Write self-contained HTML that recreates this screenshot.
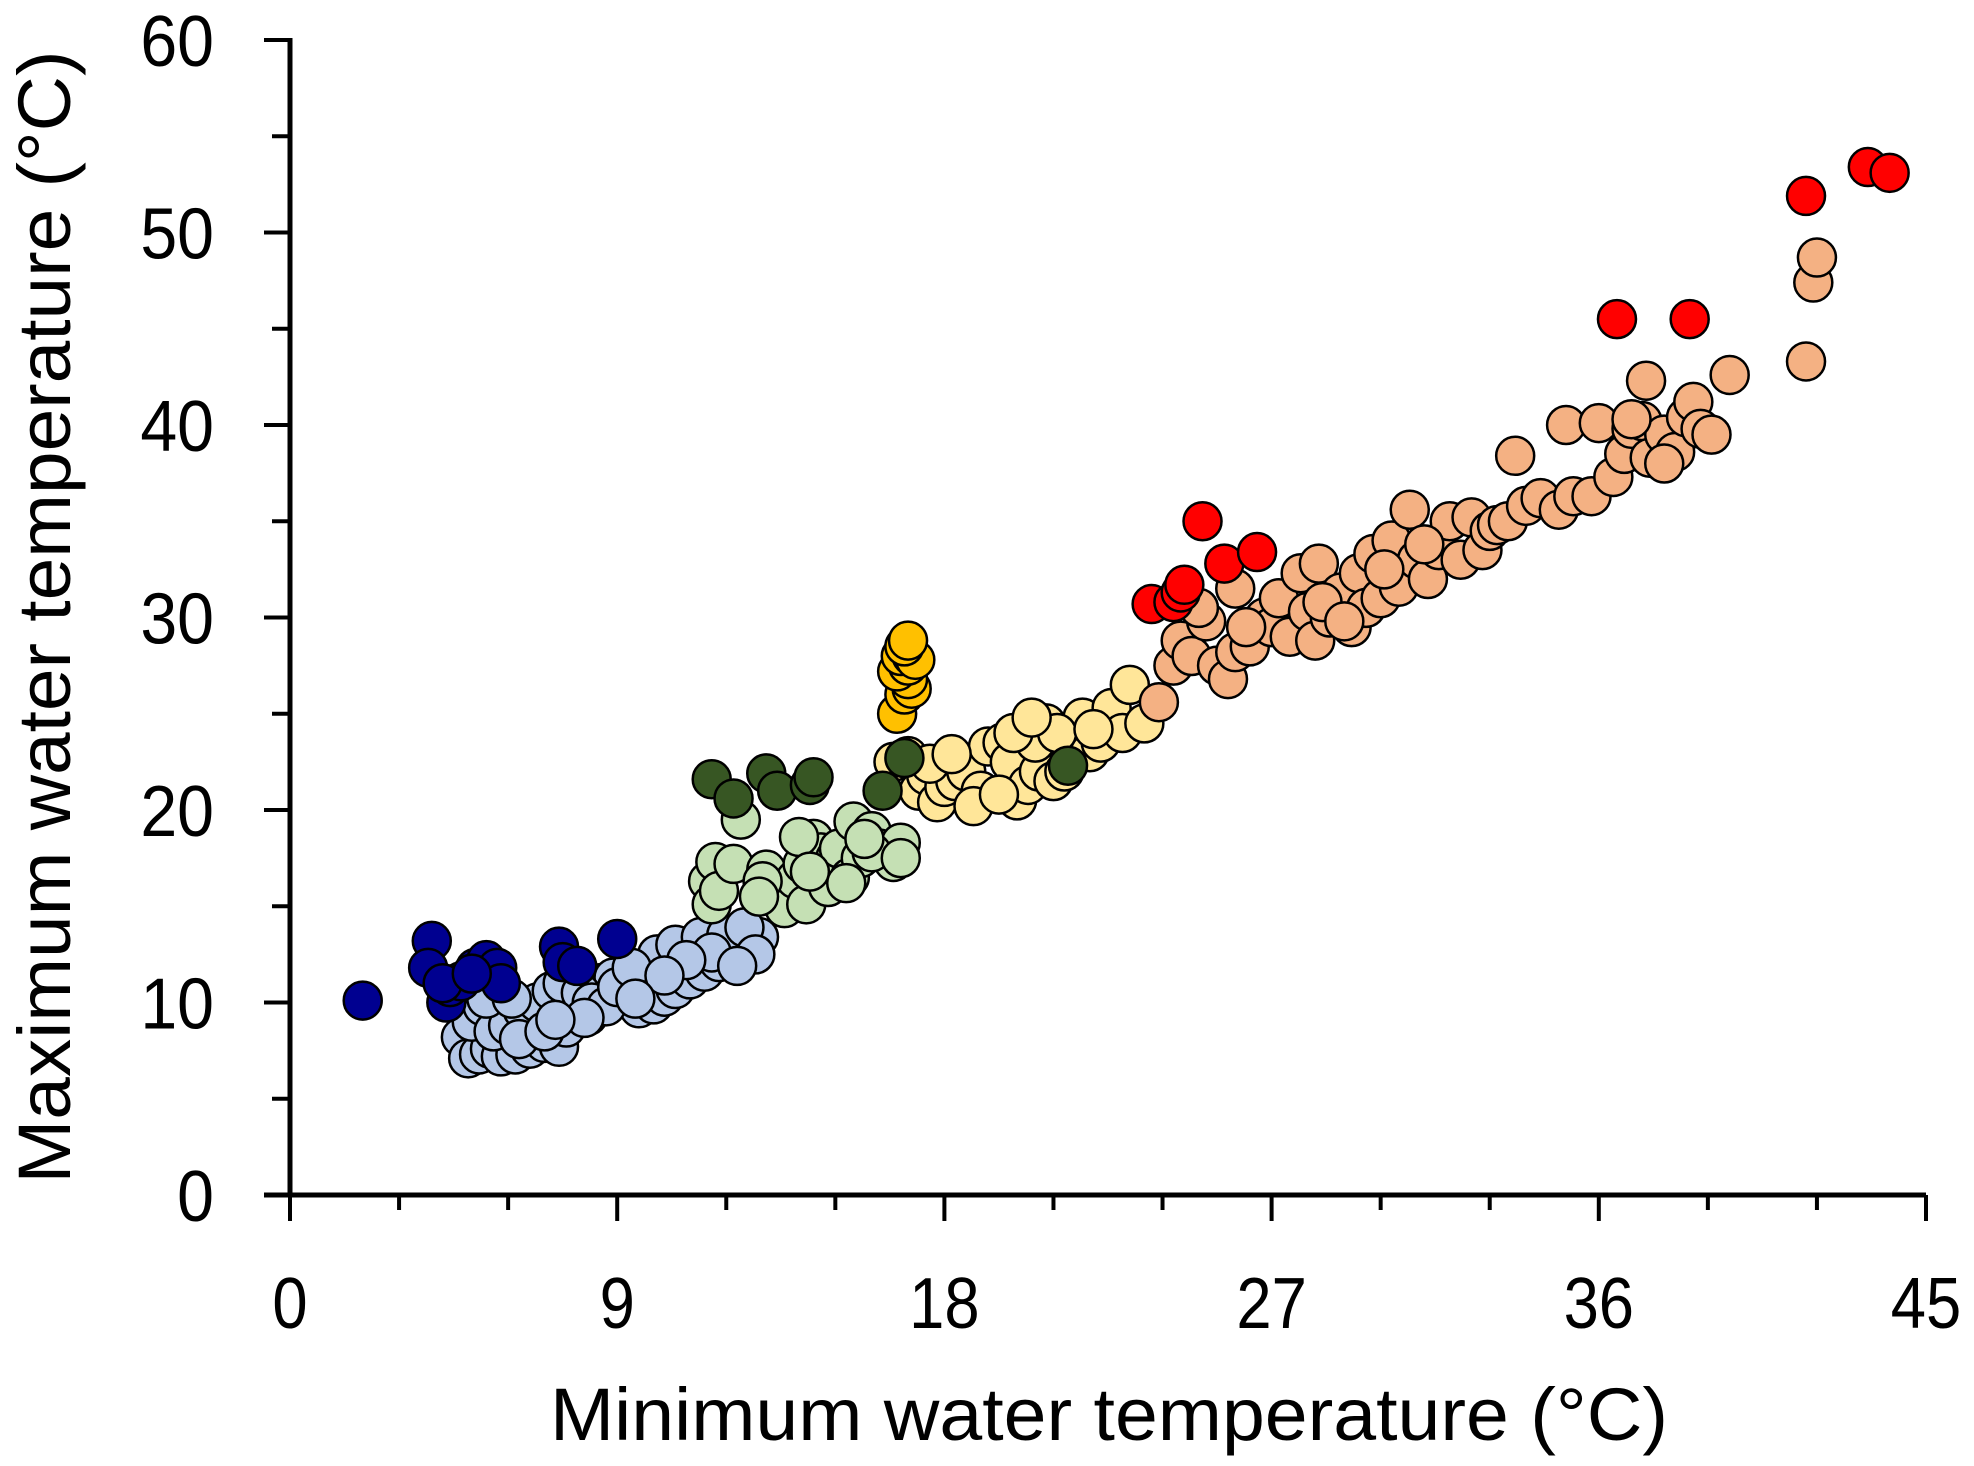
<!DOCTYPE html>
<html><head><meta charset="utf-8"><style>
html,body{margin:0;padding:0;background:#fff;}
svg{display:block;}
text{font-family:"Liberation Sans",sans-serif;fill:#000;}
</style></head><body>
<svg id="chart" width="1974" height="1466" viewBox="0 0 1974 1466">
<g id="axes"></g>
<g id="points"></g>
<text x="1109" y="1440" font-size="74" text-anchor="middle" textLength="1118" lengthAdjust="spacingAndGlyphs">Minimum water temperature (°C)</text>
<text transform="translate(70,617) rotate(-90)" font-size="74" text-anchor="middle" textLength="1133" lengthAdjust="spacingAndGlyphs">Maximum water temperature (°C)</text>
</svg>
<script>
const xTicks=[0,9,18,27,36,45];
const yTicks=[0,10,20,30,40,50,60];
const navy=[[2.0,10.1],[3.9,13.2],[3.8,11.8],[4.3,10.0],[4.4,10.8],[4.7,11.1],[5.1,11.8],[5.4,12.2],[5.7,11.8],[5.8,11.0],[7.4,12.9],[7.5,12.1],[7.9,11.9],[9.0,13.3],[4.2,11.0],[5.0,11.5]];
const lightBlue=[[4.7,8.2],[4.9,7.1],[5.2,7.3],[5.5,7.6],[5.8,7.2],[6.2,7.3],[6.6,7.6],[7.0,7.9],[7.4,7.7],[7.6,8.7],[7.8,9.7],[8.2,9.3],[8.5,11.0],[8.9,11.3],[9.2,10.4],[9.6,9.7],[10.0,9.9],[10.3,10.3],[10.6,10.7],[11.0,11.2],[11.4,11.6],[11.8,12.1],[12.2,12.4],[12.6,12.9],[12.9,13.4],[9.9,11.7],[10.1,12.5],[10.6,13.0],[11.3,13.4],[12.0,13.5],[12.5,13.9],[5.0,9.0],[5.3,9.8],[5.6,8.5],[6.0,8.8],[6.4,9.6],[6.8,10.0],[7.2,10.6],[7.5,11.0],[8.0,10.5],[8.3,10.0],[8.7,9.8],[9.0,10.8],[9.4,11.8],[6.3,8.1],[7.0,8.5],[5.4,10.2],[6.1,10.2],[12.8,12.5],[11.6,12.6],[10.9,12.2],[10.3,11.4],[9.5,10.2],[8.1,9.2],[7.3,9.1],[12.3,11.9]];
const lightGreen=[[11.5,16.3],[11.7,17.3],[11.6,15.1],[11.8,15.8],[12.2,17.2],[12.4,19.5],[13.1,16.9],[13.4,15.6],[13.6,14.9],[13.9,16.4],[14.1,17.2],[14.2,15.1],[14.4,18.5],[14.6,17.8],[14.8,16.0],[15.0,17.5],[15.1,18.0],[15.4,16.5],[15.5,19.4],[15.7,17.5],[16.0,18.9],[16.2,18.0],[16.6,17.3],[16.8,18.3],[13.0,16.3],[14.0,18.6],[15.3,16.2],[16.0,17.8],[16.8,17.5],[15.8,18.5],[14.3,16.8],[12.9,15.5]];
const yellow=[[16.6,22.5],[17.0,22.8],[17.3,21.0],[17.5,21.8],[17.8,20.4],[18.0,21.2],[18.3,21.5],[18.6,22.0],[19.0,21.0],[19.2,23.3],[19.6,23.5],[19.8,22.5],[20.0,20.5],[20.3,21.3],[20.6,22.0],[20.8,24.5],[21.0,21.5],[21.3,22.0],[21.6,22.8],[21.8,24.8],[22.0,23.0],[22.3,23.5],[22.6,25.3],[22.9,24.0],[23.1,26.5],[23.5,24.5],[18.8,20.2],[19.5,20.8],[20.5,23.5],[21.1,24.0],[22.1,24.2],[17.6,22.4],[18.2,22.9],[19.9,24.0],[20.4,24.8]];
const salmon=[[23.9,25.6],[24.3,27.5],[24.5,28.8],[24.8,28.0],[25.2,29.8],[25.5,27.5],[25.8,26.8],[26.0,28.2],[26.0,31.5],[26.4,28.5],[26.8,30.0],[27.0,29.5],[27.2,31.0],[27.5,29.0],[27.8,32.3],[28.0,30.3],[28.2,28.8],[28.3,32.8],[28.6,30.0],[28.9,31.3],[29.2,29.5],[29.4,32.3],[29.6,30.5],[29.8,33.3],[30.0,31.0],[30.3,34.0],[30.5,31.6],[30.8,35.6],[31.0,33.0],[31.3,32.0],[31.6,33.5],[31.9,35.0],[32.2,33.0],[32.5,35.2],[32.8,33.5],[33.0,34.5],[33.2,34.8],[33.5,35.0],[33.7,38.4],[34.0,35.8],[34.4,36.2],[34.9,35.6],[35.1,40.0],[35.3,36.3],[35.8,36.3],[36.0,40.1],[36.4,37.3],[36.7,38.5],[36.9,39.8],[37.2,40.2],[37.3,42.3],[37.4,38.3],[37.8,39.5],[38.1,38.6],[38.4,40.4],[38.6,41.2],[38.8,39.8],[39.1,39.5],[39.6,42.6],[41.7,43.3],[41.9,47.4],[42.0,48.7],[28.4,30.8],[29.0,29.8],[30.1,32.5],[31.2,33.8],[26.3,29.5],[25.0,30.5],[36.9,40.3],[37.8,38.0]];
const gold=[[16.7,25.0],[16.9,26.0],[17.1,26.3],[17.0,26.8],[16.7,27.2],[17.0,27.5],[16.8,28.0],[17.1,28.0],[17.2,27.8],[16.9,28.5],[17.0,28.8]];
const darkGreen=[[11.6,21.6],[12.2,20.6],[13.1,21.9],[13.4,21.0],[14.3,21.3],[14.4,21.7],[16.3,21.0],[16.9,22.7],[21.4,22.3]];
const red=[[23.7,30.7],[24.3,30.8],[24.5,31.3],[24.6,31.7],[25.1,35.0],[25.7,32.8],[26.6,33.4],[36.5,45.5],[38.5,45.5],[41.7,51.9],[43.4,53.4],[44.0,53.1]];

const NS='http://www.w3.org/2000/svg';
const X0=290,X1=1926,Y0=1195,Y1=40;
function sx(v){return X0+(v-0)/45*(X1-X0);}
function sy(v){return Y0-(v-0)/60*(Y0-Y1);}
function mk(tag,attrs,parent){const e=document.createElementNS(NS,tag);for(const k in attrs)e.setAttribute(k,attrs[k]);parent.appendChild(e);return e;}
const axes=document.getElementById('axes');
let l=mk('line',{x1:X0,y1:Y1-2,x2:X0,y2:Y0,stroke:'#000','stroke-width':5},axes);


l=mk('line',{x1:264,y1:Y0,x2:X1,y2:Y0,stroke:'#000','stroke-width':5},axes);


for(let v=0;v<=60;v+=5){
  const major=v%10===0;
  const t=mk('line',{x1:major?264:272,y1:sy(v),x2:X0,y2:sy(v),stroke:'#000','stroke-width':4},axes);
  
  
}
for(let v=0;v<=45;v+=3){
  const major=v%9===0;
  const t=mk('line',{x1:sx(v),y1:Y0,x2:sx(v),y2:major?1221:1210,stroke:'#000','stroke-width':4},axes);
  
  
}
yTicks.forEach(v=>{
  const t=mk('text',{x:0,y:0,'font-size':72,'text-anchor':'end',transform:'translate(214,'+(sy(v)+26)+') scale(0.92,1)'},axes);
  t.textContent=v;
  
  
});
xTicks.forEach(v=>{
  const t=mk('text',{x:0,y:0,'font-size':72,'text-anchor':'middle',transform:'translate('+sx(v)+',1328) scale(0.88,1)'},axes);
  t.textContent=v;
  
  
});
const pts=document.getElementById('points');
const series=[[lightBlue,'#B4C7E7','light-blue'],[navy,'#000090','navy'],[lightGreen,'#C5E0B4','light-green'],[yellow,'#FFE699','yellow'],[salmon,'#F4B183','salmon'],[gold,'#FFC000','gold'],[darkGreen,'#375623','dark-green'],[red,'#FF0000','red']];
series.forEach(([data,col,name])=>{
  data.forEach(d=>{
    const c=mk('circle',{cx:sx(d[0]),cy:sy(d[1]),r:19,fill:col,stroke:'#000','stroke-width':2.5},pts);
    
    
  });
});
</script>
</body></html>
